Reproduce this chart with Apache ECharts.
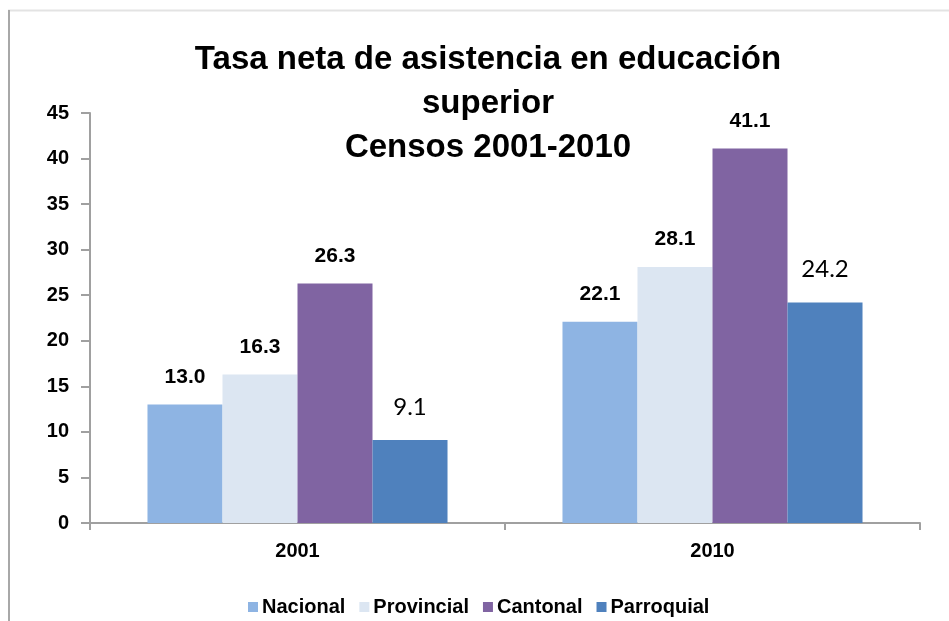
<!DOCTYPE html>
<html>
<head>
<meta charset="utf-8">
<script src="https://cdn.jsdelivr.net/npm/echarts@6/dist/echarts.min.js"></script>
<style>
    html, body { margin: 0; padding: 0; background: #fff; }
    #chart { width: 949px; height: 621px; }
</style>
</head>
<body>
<div id="chart"></div>
<script>
    var categories = ['2001', '2010'];
    var nacional = [13.0, 22.1];
    var provincial = [16.3, 28.1];
    var cantonal = [26.3, 41.1];
    var parroquial = [9.1, 24.2];
    var yTicks = [0, 5, 10, 15, 20, 25, 30, 35, 40, 45];

    var font = 'Liberation Sans, Arial, sans-serif';

    var boldLabel = {
        show: true,
        position: 'top',
        distance: 17,
        fontFamily: font,
        fontWeight: 'bold',
        fontSize: 21,
        color: '#000',
        formatter: function (p) { return p.value.toFixed(1); }
    };

    function bar(name, data, color, label) {
        return {
            name: name,
            type: 'bar',
            data: data,
            barGap: 0,
            barCategoryGap: '27.7%',
            itemStyle: { color: color },
            label: label || boldLabel
        };
    }

    var chart = echarts.init(document.getElementById('chart'));
    var option = {
        animation: false,
        backgroundColor: '#fff',
        title: {
            text: 'Tasa neta de asistencia en educación\nsuperior\nCensos 2001-2010',
            left: 488,
            top: 38,
            textAlign: 'center',
            padding: 0,
            textStyle: {
                fontFamily: font,
                fontWeight: 'bold',
                fontSize: 33,
                lineHeight: 44,
                color: '#000'
            }
        },
        legend: {
            left: 248,
            top: 597,
            padding: 0,
            itemWidth: 10,
            itemHeight: 10,
            itemGap: 14,
            icon: 'rect',
            textStyle: {
                fontFamily: font,
                fontWeight: 'bold',
                fontSize: 20,
                color: '#000',
                padding: [0, 0, 0, -1]
            },
            data: ['Nacional', 'Provincial', 'Cantonal', 'Parroquial']
        },
        grid: { left: 90, right: 29, top: 113, bottom: 98, containLabel: false },
        xAxis: {
            type: 'category',
            data: categories,
            axisLine: { lineStyle: { color: '#a0a0a0', width: 2 } },
            axisTick: { show: true, length: 7, lineStyle: { color: '#a0a0a0', width: 2 } },
            axisLabel: {
                margin: 18,
                fontFamily: font,
                fontWeight: 'bold',
                fontSize: 20,
                color: '#000'
            }
        },
        yAxis: {
            type: 'value',
            min: yTicks[0],
            max: yTicks[yTicks.length - 1],
            interval: 5,
            axisLine: { show: true, lineStyle: { color: '#a0a0a0', width: 2 } },
            axisTick: { show: true, length: 9, lineStyle: { color: '#a0a0a0', width: 2 } },
            splitLine: { show: false },
            axisLabel: {
                margin: 21,
                fontFamily: font,
                fontWeight: 'bold',
                fontSize: 20,
                color: '#000'
            }
        },
        graphic: [
            { type: 'line', shape: { x1: 8, y1: 10.5, x2: 949, y2: 10.5 }, style: { stroke: '#e3e3e3', lineWidth: 2 } },
            { type: 'line', shape: { x1: 9, y1: 10, x2: 9, y2: 621 }, style: { stroke: '#a8a8a8', lineWidth: 2 } }
        ],
        series: [
            bar('Nacional', nacional, '#8EB4E3'),
            bar('Provincial', provincial, '#DCE6F2'),
            bar('Cantonal', cantonal, '#8064A2'),
            bar('Parroquial', parroquial, '#4F81BD', {
                show: true,
                position: 'top',
                distance: 21,
                fontFamily: 'Lato, sans-serif',
                fontWeight: 'normal',
                fontSize: 24,
                color: '#000',
                formatter: function (p) { return p.value.toFixed(1); }
            })
        ]
    };
    chart.setOption(option);
</script>
</body>
</html>
